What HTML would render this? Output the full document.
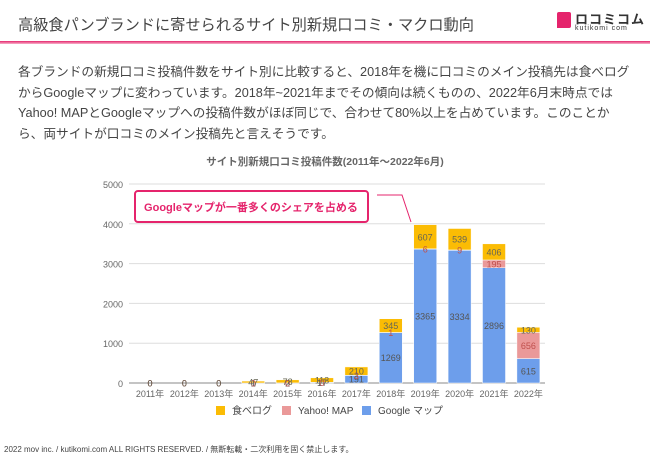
<!DOCTYPE html>
<html><head><meta charset="utf-8"><style>
body{margin:0;width:650px;height:460px;background:#fff;font-family:"Liberation Sans","Noto Sans CJK JP",sans-serif;overflow:hidden;position:relative}
.t{position:absolute;white-space:nowrap}
</style></head><body>
<div class="t" style="left:18px;top:13px;font-size:15.2px;color:#444">高級食パンブランドに寄せられるサイト別新規口コミ・マクロ動向</div>
<div style="position:absolute;left:557px;top:10px;width:80px;height:26px">
<div style="position:absolute;left:0;top:2px;width:14px;height:16px;background:#e5246c;border-radius:2px 2px 2px 0"></div>
<div class="t" style="left:18px;top:-1px;font-size:13px;font-weight:bold;color:#333;letter-spacing:1px">ロコミコム</div>
<div class="t" style="left:18px;top:15px;font-size:7px;color:#333;letter-spacing:1px">kutikomi com</div>
</div>
<div style="position:absolute;left:0;top:41px;width:650px;height:3px;background:linear-gradient(#e5246c,#f7b3cb)"></div>
<div style="position:absolute;left:18px;top:62px;font-size:12.7px;line-height:20.5px;color:#444">
<div style="white-space:nowrap">各ブランドの新規口コミ投稿件数をサイト別に比較すると、2018年を機に口コミのメイン投稿先は食べログ</div>
<div style="white-space:nowrap">からGoogleマップに変わっています。2018年~2021年までその傾向は続くものの、2022年6月末時点では</div>
<div style="white-space:nowrap">Yahoo! MAPとGoogleマップへの投稿件数がほぼ同じで、合わせて80%以上を占めています。このことか</div>
<div style="white-space:nowrap">ら、両サイトが口コミのメイン投稿先と言えそうです。</div>
</div>
<svg id="chart" width="650" height="460" style="position:absolute;left:0;top:0" font-family="Liberation Sans, Noto Sans CJK JP, sans-serif">
<text x="325" y="165" text-anchor="middle" font-size="10.5" font-weight="bold" fill="#666">サイト別新規口コミ投稿件数(2011年～2022年6月)</text>
<g id="grid"></g><g id="bars"></g><g id="labels"></g>
<g>
<rect x="135" y="191" width="233" height="31" rx="3" fill="#fff" stroke="#e5246c" stroke-width="2"/>
<text x="251" y="211" text-anchor="middle" font-size="11" font-weight="bold" fill="#e5246c">Googleマップが一番多くのシェアを占める</text>
<polyline points="377,195 402,195 411,222" fill="none" stroke="#e5246c" stroke-width="1"/>
</g>
<g font-size="10" fill="#444">
<rect x="216" y="406" width="9" height="9" fill="#fbbc04"/><text x="232" y="414">食べログ</text>
<rect x="282" y="406" width="9" height="9" fill="#ea9999"/><text x="298" y="414">Yahoo! MAP</text>
<rect x="362" y="406" width="9" height="9" fill="#6d9eeb"/><text x="378" y="414">Google マップ</text>
</g>
</svg>
<div class="t" style="left:4px;top:444px;font-size:8px;color:#444">2022 mov inc. / kutikomi.com ALL RIGHTS RESERVED. / 無断転載・二次利用を固く禁止します。</div>
<script>
const years=["2011年","2012年","2013年","2014年","2015年","2016年","2017年","2018年","2019年","2020年","2021年","2022年"];
const google=[0,0,0,1,2,17,191,1269,3365,3334,2896,615];
const yahoo=[0,0,0,0,0,0,3,1,6,9,195,656];
const tabelog=[0,0,0,47,78,113,210,345,607,539,406,130];
const yTicks=[0,1000,2000,3000,4000,5000];
const NS="http://www.w3.org/2000/svg";
const y0=383,yTop=184,yMax=5000,x0=150,dx=34.4,bw=23;
const Y=v=>y0-(v/yMax)*(y0-yTop);
const X=i=>x0+i*dx;
function mk(tag,a,parent){const e=document.createElementNS(NS,tag);for(const k in a)e.setAttribute(k,a[k]);parent.appendChild(e);return e;}
const grid=document.getElementById('grid'),bars=document.getElementById('bars'),labels=document.getElementById('labels');
yTicks.forEach(t=>{
 const l=mk('line',{x1:129,x2:545,y1:Y(t),y2:Y(t),stroke:t===0?'#888':'#ddd','stroke-width':1},grid);
 
 
 const tx=mk('text',{x:123,y:Y(t)+4,'text-anchor':'end','font-size':9,fill:'#666'},grid);tx.textContent=t;
 
 
});
const series=[[google,'#6d9eeb','#555'],[yahoo,'#ea9999','#c0504d'],[tabelog,'#fbbc04','#665']];
years.forEach((yr,i)=>{
 let base=0;
 series.forEach(([arr,col,tc],s)=>{
  const v=arr[i];const top=base+v;
  const r=mk('rect',{x:X(i)-bw/2,y:Y(top),width:bw,height:Math.max(Y(base)-Y(top),0),fill:col,stroke:'#fff','stroke-width':0.5},bars);
  
  
  const t=mk('text',{x:X(i),y:(Y(base)+Y(top))/2+3.5,'text-anchor':'middle','font-size':9,fill:tc},labels);
  t.textContent=v;
  
  
  base=top;
 });
 const xl=mk('text',{x:X(i),y:397,'text-anchor':'middle','font-size':9,fill:'#666'},labels);xl.textContent=yr;
 
 
});
</script>
</body></html>
